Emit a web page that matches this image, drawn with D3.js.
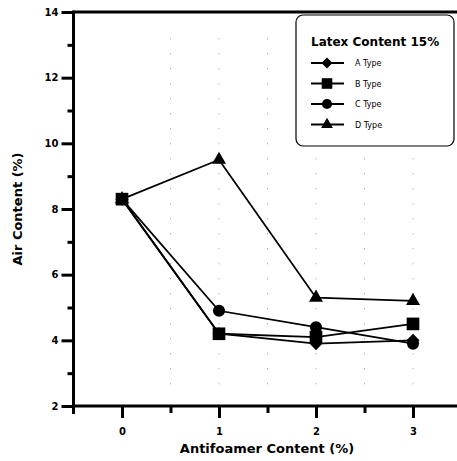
<!DOCTYPE html>
<html><head><meta charset="utf-8">
<script src="https://cdn.jsdelivr.net/npm/d3@7/dist/d3.min.js"></script>
<style>body{margin:0;background:#fff}svg{display:block}text{font-family:"DejaVu Sans",Verdana,sans-serif;font-weight:bold;fill:#000}</style>
</head><body><svg id="c" width="457" height="461"></svg>
<script>
const xValues = [0, 1, 2, 3];
const seriesNames = ["A Type", "B Type", "C Type", "D Type"];
const seriesA = [8.3, 4.2, 3.9, 4.0];
const seriesB = [8.3, 4.2, 4.1, 4.5];
const seriesC = [8.3, 4.9, 4.4, 3.9];
const seriesD = [8.3, 9.5, 5.3, 5.2];
const yMajorTicks = [2, 4, 6, 8, 10, 12, 14];
const yMinorTicks = [3, 5, 7, 9, 11, 13];
const xMajorTicks = [0, 1, 2, 3];
const xMinorTicks = [0.5, 1.5, 2.5];
const legendTitle = "Latex Content 15%";
const xTitle = "Antifoamer Content (%)";
const yTitle = "Air Content (%)";

const svg = d3.select("#c");
const W = 457;
const x = d3.scaleLinear().domain([0, 3]).range([122, 413]);
const y = d3.scaleLinear().domain([2, 14]).range([406, 12]);
const x0 = x(-0.5);

// faint scan-like dotted verticals
const g0 = svg.append("g");
[0.5, 1, 1.5, 2, 2.5, 3].forEach(v => {
  g0.append("line").attr("x1", x(v)).attr("x2", x(v)).attr("y1", y(13.2)).attr("y2", y(2.3))
    .attr("stroke", "#999").attr("stroke-width", 1).attr("stroke-dasharray", "1,14");
});

// axes
const gx = svg.append("g").attr("transform", `translate(0,${y(2)})`);
gx.call(d3.axisBottom(x).tickValues(xMajorTicks).tickSize(12).tickPadding(10).tickFormat(d3.format("d")));
const gxm = svg.append("g").attr("transform", `translate(0,${y(2)})`);
gxm.call(d3.axisBottom(x).tickValues(xMinorTicks).tickSize(7).tickFormat(""));
const gy = svg.append("g").attr("transform", `translate(${x0},0)`);
gy.call(d3.axisLeft(y).tickValues(yMajorTicks).tickSize(12).tickPadding(3).tickFormat(d3.format("d")));
const gym = svg.append("g").attr("transform", `translate(${x0},0)`);
gym.call(d3.axisLeft(y).tickValues(yMinorTicks).tickSize(6).tickFormat(""));
[gx, gxm, gy, gym].forEach(g => {
  g.select(".domain").remove();
  g.selectAll(".tick line").attr("stroke", "#000").attr("stroke-width", 3);
  g.selectAll(".tick text").style("font-size", "10px").style("font-weight", "bold").attr("fill", "#000");
});
// axis lines
svg.append("line").attr("x1", x0).attr("x2", W).attr("y1", y(2)).attr("y2", y(2)).attr("stroke", "#000").attr("stroke-width", 3);
svg.append("line").attr("x1", x0).attr("x2", W).attr("y1", y(14)).attr("y2", y(14)).attr("stroke", "#000").attr("stroke-width", 3);
svg.append("line").attr("x1", x0).attr("x2", x0).attr("y1", y(14) - 1.5).attr("y2", y(2) + 8).attr("stroke", "#000").attr("stroke-width", 3);

// titles
svg.append("text").attr("x", 267).attr("y", 453).attr("text-anchor", "middle").style("font-size", "13px").text(xTitle);
svg.append("text").attr("transform", `translate(22,${y(8)}) rotate(-90)`).attr("text-anchor", "middle").style("font-size", "13px").text(yTitle);

// markers
const diamond = { draw(ctx, size) { const r = Math.sqrt(size / 2); ctx.moveTo(0, -r); ctx.lineTo(r, 0); ctx.lineTo(0, r); ctx.lineTo(-r, 0); ctx.closePath(); } };
const sym = [diamond, d3.symbolSquare, d3.symbolCircle, d3.symbolTriangle];
const sizes = [85, 160, 115, 85];
const data = [seriesA, seriesB, seriesC, seriesD];
const order = [3, 2, 0, 1];
const line = d3.line().x((d, i) => x(xValues[i])).y(d => y(d));
data.forEach((s, k) => {
  svg.append("path").attr("d", line(s)).attr("fill", "none").attr("stroke", "#000").attr("stroke-width", 1.8);
});
order.forEach(k => {
  svg.selectAll(null).data(data[k]).enter().append("path")
    .attr("d", d3.symbol().type(sym[k]).size(sizes[k]))
    .attr("transform", (d, i) => `translate(${x(xValues[i])},${y(d)})`)
    .attr("fill", "#000");
});

// legend
const lg = svg.append("g");
lg.append("rect").attr("x", 296).attr("y", 15).attr("width", 158).attr("height", 131).attr("rx", 7)
  .attr("fill", "#fff").attr("stroke", "#000").attr("stroke-width", 1.2);
lg.append("text").attr("x", 311).attr("y", 46).style("font-size", "12px").text(legendTitle);
seriesNames.forEach((n, k) => {
  const yy = 63 + k * 20.5;
  lg.append("line").attr("x1", 311).attr("x2", 344).attr("y1", yy).attr("y2", yy).attr("stroke", "#000").attr("stroke-width", 1.8);
  lg.append("path").attr("d", d3.symbol().type(sym[k]).size(sizes[k] * 0.7)).attr("transform", `translate(327,${yy})`).attr("fill", "#000");
  lg.append("text").attr("x", 355).attr("y", yy + 3).style("font-size", "8px").style("font-weight", "normal").text(n);
});
</script></body></html>
